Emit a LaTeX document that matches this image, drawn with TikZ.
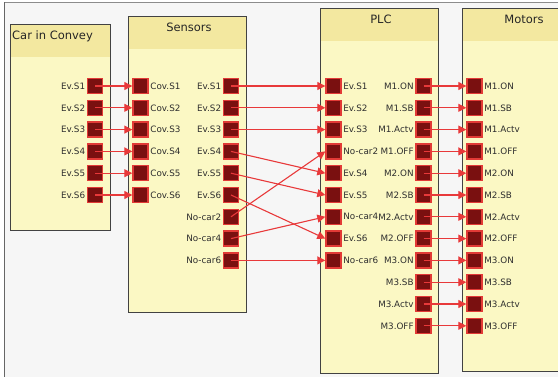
\documentclass[tikz,border=0pt]{standalone}
\usepackage{fontspec}
\setmainfont{DejaVu Sans}
\usepackage{tikz}
\usetikzlibrary{arrows.meta,positioning}

\definecolor{blockfill}{HTML}{FBF8C4}
\definecolor{headfill}{HTML}{F3E8A0}
\definecolor{portfill}{HTML}{7A1010}
\definecolor{portline}{HTML}{E23A36}
\definecolor{wirered}{HTML}{E8393A}
\definecolor{frameline}{HTML}{424242}
\definecolor{canvas}{HTML}{F6F6F6}

\begin{document}
\begin{tikzpicture}[x=1pt, y=-1pt,
  block/.style={draw=frameline, line width=1pt},
  port/.style={draw=portline, fill=portfill, line width=1.4pt, minimum size=15pt, inner sep=0pt},
  plab/.style={font=\fontsize{8.8}{9}\selectfont, text=black!82, inner sep=1.5pt},
  title/.style={font=\fontsize{11.5}{12}\selectfont, text=black!85, inner sep=0pt},
  wire/.style={draw=wirered, line width=1.1pt, -{Triangle[length=8pt, width=8pt]}}]
  \useasboundingbox (0,0) rectangle (558,377);
  \clip (0,0) rectangle (558,377);

  % Canvas
  \fill[white] (0,0) rectangle (558,377);
  \fill[canvas] (4,2) rectangle (558,377);
  \draw[black!45, line width=1pt] (4.5,2.5) -- (558,2.5);
  \draw[black!60, line width=1.3pt] (4.5,377) -- (4.5,2.5);

  % Blocks
  \fill[blockfill] (10,25) rectangle (110,231);
  \fill[headfill] (10,25) rectangle (110,57);
  \draw[block] (10,25) rectangle (110,231);
  \node[title, anchor=west] (car-t) at (12,36) {Car in Convey};

  \fill[blockfill] (128,17) rectangle (246,313);
  \fill[headfill] (128,17) rectangle (246,49);
  \draw[block] (128,17) rectangle (246,313);
  \node[title] (sen-t) at (189,27) {Sensors};

  \fill[blockfill] (320,9) rectangle (438,374);
  \fill[headfill] (320,9) rectangle (438,41);
  \draw[block] (320,9) rectangle (438,374);
  \node[title] (plc-t) at (381,19) {PLC};

  \fill[blockfill] (462,9) rectangle (590,372);
  \fill[headfill] (462,9) rectangle (590,41);
  \draw[block] (462,9) rectangle (590,372);
  \node[title] (mot-t) at (524,19) {Motors};

  % Car in Convey outputs
  \foreach \lab [count=\i] in {Ev.S1,Ev.S2,Ev.S3,Ev.S4,Ev.S5,Ev.S6} {
    \node[port] (car-o\i) at (95,{86+21.8*(\i-1)}) {};
    \node[plab, anchor=east] (car-l\i) at (car-o\i.west) {\lab};
  }

  % Sensors
  \foreach \lab [count=\i] in {Cov.S1,Cov.S2,Cov.S3,Cov.S4,Cov.S5,Cov.S6} {
    \node[port] (sen-i\i) at (140.5,{86+21.8*(\i-1)}) {};
    \node[plab, anchor=west] (sen-li\i) at (sen-i\i.east) {\lab};
  }
  \foreach \lab [count=\i] in {Ev.S1,Ev.S2,Ev.S3,Ev.S4,Ev.S5,Ev.S6,No-car2,No-car4,No-car6} {
    \node[port] (sen-o\i) at (231,{86+21.8*(\i-1)}) {};
    \node[plab, anchor=east] (sen-lo\i) at (sen-o\i.west) {\lab};
  }

  % PLC
  \foreach \lab [count=\i] in {Ev.S1,Ev.S2,Ev.S3,No-car2,Ev.S4,Ev.S5,No-car4,Ev.S6,No-car6} {
    \node[port] (plc-i\i) at (333.5,{86+21.8*(\i-1)}) {};
    \node[plab, anchor=west] (plc-li\i) at (plc-i\i.east) {\lab};
  }
  \foreach \lab [count=\i] in {M1.ON,M1.SB,M1.Actv,M1.OFF,M2.ON,M2.SB,M2.Actv,M2.OFF,M3.ON,M3.SB,M3.Actv,M3.OFF} {
    \node[port] (plc-o\i) at (423.5,{86+21.8*(\i-1)}) {};
    \node[plab, anchor=east] (plc-lo\i) at (plc-o\i.west) {\lab};
  }

  % Motors
  \foreach \lab [count=\i] in {M1.ON,M1.SB,M1.Actv,M1.OFF,M2.ON,M2.SB,M2.Actv,M2.OFF,M3.ON,M3.SB,M3.Actv,M3.OFF} {
    \node[port] (mot-i\i) at (474.5,{86+21.8*(\i-1)}) {};
    \node[plab, anchor=west] (mot-l\i) at (mot-i\i.east) {\lab};
  }

  % Wires
  \foreach \i in {1,...,6} {
    \draw[wire] (car-o\i.center) -- (sen-i\i.west);
  }
  \foreach \s/\t in {1/1,2/2,3/3,4/5,5/6,6/8,7/4,8/7,9/9} {
    \draw[wire] (sen-o\s.center) -- (plc-i\t.west);
  }
  \foreach \i in {1,...,12} {
    \draw[wire] (plc-o\i.center) -- (mot-i\i.west);
  }
\end{tikzpicture}
\end{document}
